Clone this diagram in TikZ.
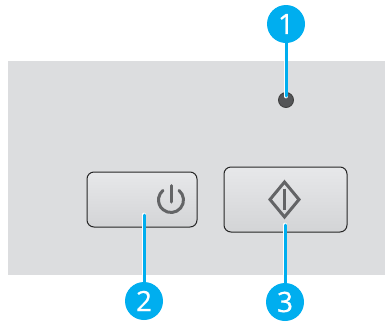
\documentclass[tikz,border=0pt]{standalone}
\usepackage{fontspec}
\setmainfont{Open Sans}
\newfontfamily\badgefont[FakeBold=0.7]{Open Sans}
\usepackage{tikz}
\usetikzlibrary{positioning}

\definecolor{panelgray}{HTML}{DCDDDF}
\definecolor{btntop}{HTML}{E7E8EA}
\definecolor{btnbot}{HTML}{D3D4D6}
\definecolor{iconcol}{HTML}{636466}
\definecolor{badgeblue}{HTML}{00AEEF}

\pgfdeclarelayer{front}
\pgfsetlayers{main,front}

\tikzset{
  panelbtn/.style={draw=black!85, line width=1pt, rounded corners=7pt, top color=btntop,
    middle color=btntop, bottom color=btnbot, inner sep=0pt},
  badge/.style={circle, fill=badgeblue, minimum size=38pt, inner sep=0pt, text=white,
    font=\fontsize{28}{28}\selectfont\badgefont},
  leader/.style={draw=white, double=badgeblue, double distance=3pt, line width=0.9pt, line cap=round},
  icon/.style={draw=iconcol, line width=3pt}
}

\begin{document}
\begin{tikzpicture}[x=1pt,y=-1pt]
  \useasboundingbox (0,0) rectangle (385,322);

  % panel
  \fill[panelgray] (8,61) rectangle (385,275);

  % indicator light
  \node[circle, draw=black!75, fill=iconcol!85!black, line width=0.9pt, minimum size=15pt, inner sep=0pt] (led) at (286,100) {};

  % buttons
  \node[panelbtn, minimum width=110pt, minimum height=55pt] (powerbtn) at (142,199.5) {};
  \node[panelbtn, minimum width=123pt, minimum height=65pt] (startbtn) at (285.5,199.5) {};

  % power icon
  \begin{scope}[shift={(171,200)},x=1pt,y=1pt]
    \draw[icon, line cap=round] (50:12.5) arc[start angle=50, end angle=-230, radius=12.5];
    \draw[icon, line cap=round] (0,14.5) -- (0,-2);
  \end{scope}

  % start icon
  \draw[icon, line join=miter] (284.5,182) -- (299,199.5) -- (284.5,217) -- (270,199.5) -- cycle;
  \draw[icon, line width=3.4pt] (284.5,188.5) -- (284.5,210);

  % callouts
  \begin{pgfonlayer}{front}
    \foreach \i/\x/\y in {1/286/24, 2/144/301, 3/285/302} {
      \node[badge] (badge\i) at (\x,\y) {\i};
    }
  \end{pgfonlayer}

  \coordinate (tip1) at (286,96);
  \coordinate (tip2) at (144,215);
  \coordinate (tip3) at (285,225);

  \foreach \i in {1,2,3} {
    \draw[leader] (badge\i.center) -- (tip\i);
  }
\end{tikzpicture}
\end{document}
